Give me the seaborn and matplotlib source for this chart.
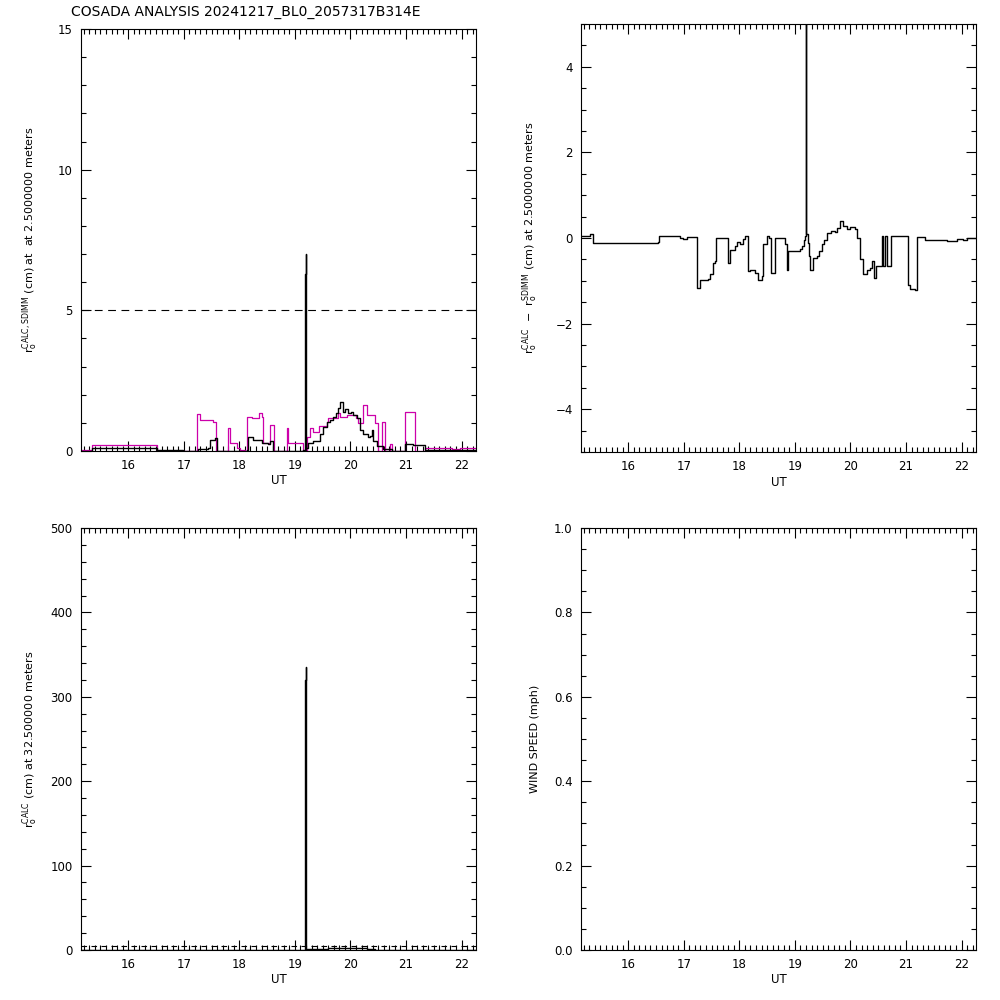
import numpy as np
import pandas as pd
import matplotlib
matplotlib.use("Agg")
import matplotlib.pyplot as plt
import seaborn as sns
from matplotlib.ticker import MultipleLocator, FormatStrFormatter

# UT breakpoints (hours) and r0 values
ut_sdimm = [15.13, 15.34, 16.52, 16.99, 17.24, 17.29, 17.53, 17.58, 17.80, 17.83,
            17.95, 18.01, 18.10, 18.14, 18.22, 18.31, 18.35, 18.40, 18.42, 18.55,
            18.63, 18.85, 18.88, 19.14, 19.21, 19.27, 19.33, 19.44, 19.57, 19.60,
            19.78, 19.81, 19.93, 20.10, 20.14, 20.22, 20.29, 20.45, 20.50, 20.56,
            20.62, 20.71, 20.74, 20.98, 21.16, 21.34, 21.82, 21.97, 22.27]
r0_sdimm = [0.02, 0.21, 0.0, 0.0, 1.30, 1.10, 1.04, 0.0, 0.81, 0.30,
            0.10, 0.05, 0.0, 1.22, 1.16, 1.16, 1.34, 1.22, 0.30, 0.91,
            0.0, 0.80, 0.30, 0.0, 0.50, 0.81, 0.67, 0.88, 1.04, 1.16,
            1.34, 1.22, 1.28, 1.16, 0.98, 1.63, 1.28, 0.98, 0.0, 1.04,
            0.0, 0.25, 0.0, 1.40, 0.0, 0.10, 0.08, 0.12, 0.10]

ut_calc = [15.13, 15.34, 16.52, 16.99, 17.26, 17.44, 17.48, 17.56, 17.59, 18.13,
           18.16, 18.25, 18.40, 18.52, 18.56, 18.60, 19.15, 19.185, 19.195, 19.200,
           19.205, 19.24, 19.33, 19.45, 19.50, 19.57, 19.63, 19.69, 19.74, 19.78,
           19.82, 19.87, 19.91, 19.96, 20.01, 20.05, 20.11, 20.17, 20.22, 20.26,
           20.31, 20.35, 20.38, 20.41, 20.48, 20.59, 20.74, 20.98, 21.13, 21.34, 22.27]
r0_calc = [0.0, 0.09, 0.03, 0.0, 0.06, 0.10, 0.40, 0.45, 0.0, 0.05,
           0.50, 0.40, 0.30, 0.25, 0.36, 0.0, 0.05, 6.3, 6.3, 7.0,
           0.10, 0.30, 0.36, 0.60, 0.85, 1.04, 1.10, 1.22, 1.35, 1.52,
           1.75, 1.40, 1.48, 1.34, 1.38, 1.28, 1.16, 0.73, 0.62, 0.60,
           0.50, 0.55, 0.75, 0.36, 0.16, 0.06, 0.0, 0.25, 0.20, 0.05, 0.05]

ut_diff = [15.13, 15.32, 15.36, 16.54, 16.55, 16.93, 16.99, 17.05, 17.23, 17.24,
           17.29, 17.35, 17.44, 17.47, 17.52, 17.56, 17.58, 17.79, 17.80, 17.83,
           17.92, 17.95, 18.01, 18.07, 18.11, 18.16, 18.19, 18.28, 18.34, 18.40,
           18.43, 18.49, 18.54, 18.57, 18.64, 18.80, 18.82, 18.86, 18.88, 19.09,
           19.12, 19.16, 19.185, 19.195, 19.20, 19.205, 19.24, 19.26, 19.28, 19.33,
           19.40, 19.44, 19.48, 19.52, 19.57, 19.65, 19.72, 19.75, 19.81, 19.87,
           19.93, 20.00, 20.08, 20.11, 20.17, 20.23, 20.29, 20.35, 20.38, 20.42,
           20.46, 20.53, 20.56, 20.59, 20.62, 20.65, 20.71, 20.73, 21.01, 21.04,
           21.08, 21.16, 21.19, 21.34, 21.73, 21.79, 21.91, 22.03, 22.09, 22.27]
r0_diff = [0.04, 0.10, -0.12, -0.10, 0.04, 0.0, -0.03, 0.02, 0.0, -1.17,
           -0.98, -0.97, -0.95, -0.85, -0.58, -0.54, 0.0, 0.0, -0.58, -0.27,
           -0.19, -0.10, -0.15, -0.03, 0.04, -0.78, -0.74, -0.82, -0.97, -0.89,
           -0.15, 0.04, 0.0, -0.82, 0.0, 0.0, -0.15, -0.74, -0.31, -0.25,
           -0.19, -0.05, 0.05, 6.0, 6.0, 0.10, -0.11, -0.42, -0.74, -0.46,
           -0.42, -0.31, -0.15, -0.05, 0.12, 0.16, 0.14, 0.24, 0.39, 0.28,
           0.22, 0.25, 0.20, 0.0, -0.50, -0.85, -0.74, -0.70, -0.54, -0.93,
           -0.66, -0.66, 0.04, -0.66, 0.04, -0.66, -0.66, 0.04, 0.04, -1.09,
           -1.20, -1.22, 0.02, -0.04, -0.06, -0.08, -0.02, -0.05, 0.0, 0.0]

ut_calc32 = [15.13, 19.15, 19.185, 19.195, 19.20, 19.205, 19.35, 19.60, 19.90, 20.30, 20.45, 22.27]
r0_calc32 = [0.3, 0.3, 320.0, 320.0, 335.0, 1.0, 1.5, 2.0, 2.2, 1.5, 0.3, 0.3]

r0_limit = 5.0
title = "COSADA ANALYSIS 20241217_BL0_2057317B314E"
ylab_tl = r"r$_\mathrm{o}^\mathrm{CALC,SDIMM}$ (cm) at  at 2.5000000 meters"
ylab_tr = r"r$_\mathrm{o}^\mathrm{CALC}$  $-$  r$_\mathrm{o}^\mathrm{SDIMM}$ (cm) at 2.5000000 meters"
ylab_bl = r"r$_\mathrm{o}^\mathrm{CALC}$ (cm) at 32.500000 meters"
ylab_br = "WIND SPEED (mph)"

sns.set_style("ticks", {"xtick.direction": "in", "ytick.direction": "in"})
plt.rcParams["font.family"] = ["DejaVu Sans"]
plt.rcParams["axes.linewidth"] = 0.8
plt.rcParams["mathtext.fontset"] = "dejavusans"
for key in ["text.color", "axes.labelcolor", "xtick.color", "ytick.color", "axes.edgecolor"]:
    plt.rcParams[key] = "black"

magenta = "#CC00AA"
xlim = (15.15, 22.26)

fig = plt.figure(figsize=(10, 10), dpi=100)
ax_tl = fig.add_axes([0.081, 0.549, 0.395, 0.422])
ax_tr = fig.add_axes([0.581, 0.548, 0.395, 0.428])
ax_bl = fig.add_axes([0.081, 0.050, 0.395, 0.422])
ax_br = fig.add_axes([0.581, 0.050, 0.395, 0.422])


def style_axes(ax, ylim, major, minor, ylabel, fmt=None):
    ax.set_xlim(*xlim)
    ax.set_ylim(*ylim)
    ax.xaxis.set_major_locator(MultipleLocator(1))
    ax.xaxis.set_minor_locator(MultipleLocator(0.1))
    ax.yaxis.set_major_locator(MultipleLocator(major))
    ax.yaxis.set_minor_locator(MultipleLocator(minor))
    ax.tick_params(which="both", direction="in", top=True, right=True,
                   labelsize=8.5, color="black", labelcolor="black", width=0.8, pad=6)
    ax.tick_params(which="major", length=7)
    ax.tick_params(which="minor", length=3.5)
    if fmt:
        ax.yaxis.set_major_formatter(fmt)
    for s in ax.spines.values():
        s.set_visible(True)
        s.set_color("black")
    ax.set_xlabel("UT", fontsize=8.5, color="black")
    ax.xaxis.set_label_coords(0.5, -0.055)
    ax.set_ylabel(ylabel, fontsize=8, color="black")
    ax.yaxis.set_label_coords(-0.105, 0.5)


# top-left: r0 calc and sdimm at 2.5 m
sns.lineplot(x=ut_sdimm, y=r0_sdimm, ax=ax_tl, color=magenta, lw=0.9,
             estimator=None, sort=False, drawstyle="steps-post")
sns.lineplot(x=ut_calc, y=r0_calc, ax=ax_tl, color="black", lw=1.0,
             estimator=None, sort=False, drawstyle="steps-post")
ax_tl.axhline(r0_limit, color="black", lw=0.8, ls=(0, (7, 5)))
style_axes(ax_tl, (0, 15), 5, 1, ylab_tl)

# top-right: difference
sns.lineplot(x=ut_diff, y=r0_diff, ax=ax_tr, color="black", lw=1.0,
             estimator=None, sort=False, drawstyle="steps-post")
style_axes(ax_tr, (-5, 5), 2, 0.5, ylab_tr)

# bottom-left: r0 calc at 32.5 m
sns.lineplot(x=ut_calc32, y=r0_calc32, ax=ax_bl, color="black", lw=1.0,
             estimator=None, sort=False, drawstyle="steps-post")
ax_bl.axhline(r0_limit, color="black", lw=0.8, ls=(0, (5, 4)))
style_axes(ax_bl, (0, 500), 100, 20, ylab_bl)

# bottom-right: wind speed (no data)
style_axes(ax_br, (0, 1), 0.2, 0.05, ylab_br, fmt=FormatStrFormatter("%.1f"))

fig.text(0.071, 0.988, title, fontsize=10, ha="left", va="center", color="black")

fig.savefig("out.png", dpi=100, facecolor="white")
